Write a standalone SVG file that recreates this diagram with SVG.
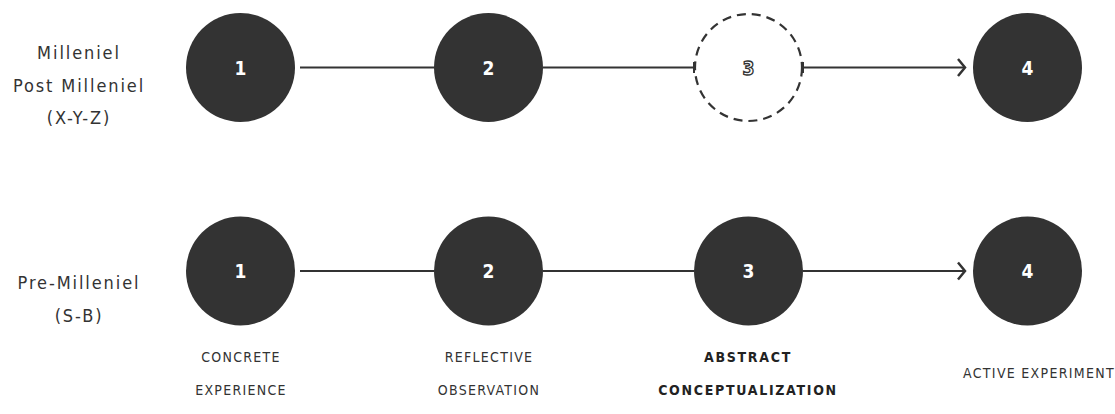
<svg xmlns="http://www.w3.org/2000/svg" width="1115" height="414" viewBox="0 0 1115 414">
<defs>
<style>
.bg{fill:#ffffff}
.node{fill:#333333}
.dash{fill:#ffffff;stroke:#333333;stroke-width:2.2;stroke-dasharray:9 6}
.num{font-family:"DejaVu Sans Condensed","DejaVu Sans",sans-serif;font-weight:bold;font-size:19px;fill:#ffffff;text-anchor:middle}
.numo{font-family:"DejaVu Sans Condensed","DejaVu Sans",sans-serif;font-weight:bold;font-size:19px;fill:#ffffff;stroke:#333333;stroke-width:1.3;text-anchor:middle}
.lbl{font-family:"DejaVu Sans Condensed","DejaVu Sans",sans-serif;font-size:18px;fill:#333333;text-anchor:middle;letter-spacing:1.9px}
.cap{font-family:"DejaVu Sans Condensed","DejaVu Sans",sans-serif;font-size:14px;fill:#333333;text-anchor:middle;letter-spacing:1.3px}
.capb{font-family:"DejaVu Sans Condensed","DejaVu Sans",sans-serif;font-size:14px;font-weight:bold;fill:#222222;text-anchor:middle;letter-spacing:1.7px}
.ln{stroke:#333333;stroke-width:2;fill:none}
</style>
<marker id="chev" markerWidth="12" markerHeight="20" refX="9" refY="10" orient="auto" markerUnits="userSpaceOnUse">
<path d="M2,1.5 L9,10 L2,18.5" fill="none" stroke="#333333" stroke-width="2.5"/>
</marker>
</defs>
<rect class="bg" x="0" y="0" width="1115" height="414"/>

<g id="row-labels">
<text class="lbl" x="79" y="59">Milleniel</text>
<text class="lbl" x="79" y="92">Post Milleniel</text>
<text class="lbl" x="79" y="124">(X-Y-Z)</text>
<text class="lbl" x="79" y="289">Pre-Milleniel</text>
<text class="lbl" x="79" y="322">(S-B)</text>
</g>

<g id="connectors">
<line class="ln" x1="300" y1="67.5" x2="434" y2="67.5"/>
<line class="ln" x1="543" y1="67.5" x2="694" y2="67.5"/>
<line class="ln" x1="694" y1="62" x2="694" y2="73"/>
<line class="ln" x1="803" y1="62" x2="803" y2="73"/>
<line class="ln" x1="803" y1="67.5" x2="965" y2="67.5" marker-end="url(#chev)"/>
<line class="ln" x1="300" y1="271" x2="434" y2="271"/>
<line class="ln" x1="543" y1="271" x2="694" y2="271"/>
<line class="ln" x1="803" y1="271" x2="965" y2="271" marker-end="url(#chev)"/>
</g>

<g id="top-1"><circle class="node" cx="240.5" cy="67.5" r="54.5"/><text class="num" x="240.5" y="74.5">1</text></g>
<g id="top-2"><circle class="node" cx="488.5" cy="67.5" r="54.5"/><text class="num" x="488.5" y="74.5">2</text></g>
<g id="top-3"><circle class="dash" cx="748.5" cy="67.5" r="53.5"/><text class="numo" x="748.5" y="74.5">3</text></g>
<g id="top-4"><circle class="node" cx="1027.5" cy="67.5" r="54.5"/><text class="num" x="1027.5" y="74.5">4</text></g>

<g id="bot-1"><circle class="node" cx="240.5" cy="271" r="54.5"/><text class="num" x="240.5" y="278">1</text></g>
<g id="bot-2"><circle class="node" cx="488.5" cy="271" r="54.5"/><text class="num" x="488.5" y="278">2</text></g>
<g id="bot-3"><circle class="node" cx="748.5" cy="271" r="54.5"/><text class="num" x="748.5" y="278">3</text></g>
<g id="bot-4"><circle class="node" cx="1027.5" cy="271" r="54.5"/><text class="num" x="1027.5" y="278">4</text></g>

<g id="stage-labels">
<text class="cap" x="241" y="362">CONCRETE</text>
<text class="cap" x="241" y="395">EXPERIENCE</text>
<text class="cap" x="489" y="362">REFLECTIVE</text>
<text class="cap" x="489" y="395">OBSERVATION</text>
<text class="capb" x="748" y="362">ABSTRACT</text>
<text class="capb" x="748" y="395">CONCEPTUALIZATION</text>
<text class="cap" x="1039" y="378">ACTIVE EXPERIMENT</text>
</g>
</svg>
